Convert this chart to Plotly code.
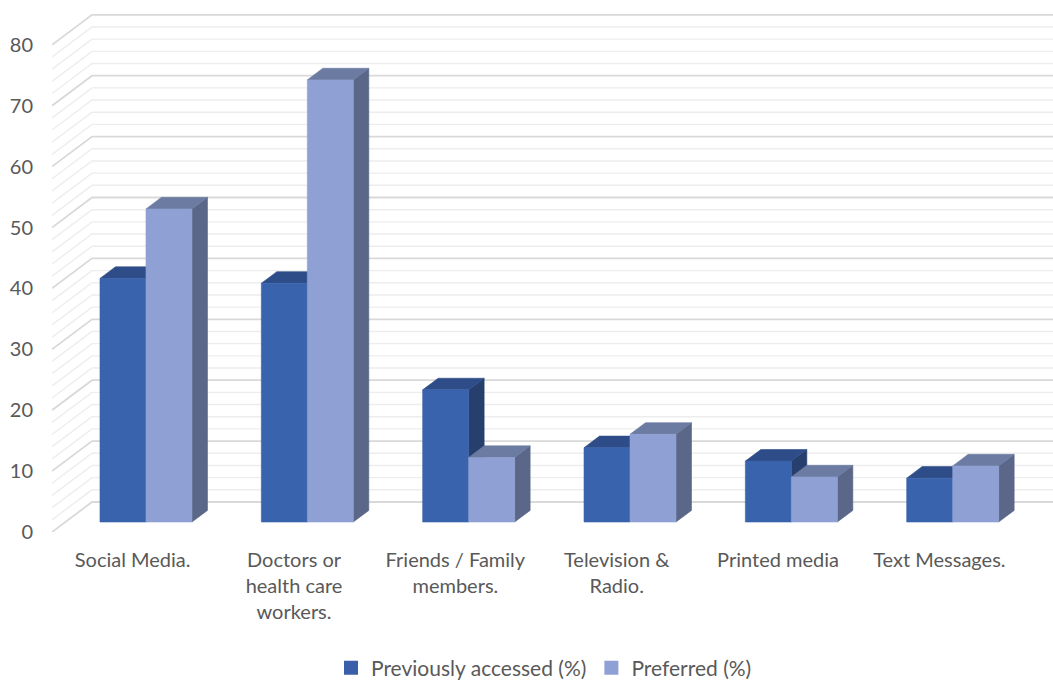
import plotly.graph_objects as go

# ---------------- data ----------------
categories = ["Social Media.", "Doctors or health care workers.", "Friends / Family members.",
              "Television & Radio.", "Printed media", "Text Messages."]
tick_labels = ["Social Media.", "Doctors or<br>health care<br>workers.", "Friends / Family<br>members.",
               "Television &<br>Radio.", "Printed media", "Text Messages."]
previously_accessed = [40.0, 39.2, 21.7, 12.2, 10.0, 7.2]
preferred = [51.4, 72.6, 10.6, 14.4, 7.4, 9.2]
series_names = ["Previously accessed (%)", "Preferred (%)"]
y_ticks = [0, 10, 20, 30, 40, 50, 60, 70, 80]
minor_step = 2

# ---------------- style / geometry ----------------
FONT = "Lato, 'Open Sans', sans-serif"
TEXT_COLOR = "#595959"
PX_PER_CAT = 161.34          # horizontal pixels per category
PX_PER_UNIT = 6.09           # vertical pixels per value unit
DEPTH_X = 40 / PX_PER_CAT    # oblique offset of the back wall (in axis units)
DEPTH_Y = 30 / PX_PER_UNIT
BAR_FRONT = 0.333            # depth fraction of bar front face
BAR_BACK = 0.72              # depth fraction of bar back face
BAR_W = 46 / PX_PER_CAT
colors = {
    0: dict(front="#3A63AD", top="#2E4D88", side="#263F6D"),
    1: dict(front="#8FA1D4", top="#6B7BA2", side="#5A6788"),
}
legend_colors = ["#3A5FAA", "#8FA1D4"]

X_MIN = -0.5
X_MAX = X_MIN + 1001 / PX_PER_CAT
Y_MAX = 532 / PX_PER_UNIT

fig = go.Figure()

# ---------------- walls / gridlines ----------------
maj_x, maj_y, min_x, min_y = [], [], [], []
v = 0
top_val = y_ticks[-1]
while v <= top_val:
    xs = [X_MIN, X_MIN + DEPTH_X, X_MAX + 1, None]
    ys = [v, v + DEPTH_Y, v + DEPTH_Y, None]
    if v in y_ticks:
        maj_x += xs; maj_y += ys
    else:
        min_x += xs; min_y += ys
    v += minor_step
fig.add_trace(go.Scatter(x=min_x, y=min_y, mode="lines", line=dict(color="#EDEDED", width=1.4),
                         hoverinfo="skip", showlegend=False))
fig.add_trace(go.Scatter(x=maj_x, y=maj_y, mode="lines", line=dict(color="#D9D9D9", width=1.8),
                         hoverinfo="skip", showlegend=False))

# ---------------- 3D bars ----------------
fdx, fdy = BAR_FRONT * DEPTH_X, BAR_FRONT * DEPTH_Y
ddx, ddy = (BAR_BACK - BAR_FRONT) * DEPTH_X, (BAR_BACK - BAR_FRONT) * DEPTH_Y

for s, values in enumerate([previously_accessed, preferred]):
    faces = {"side": ([], []), "top": ([], []), "front": ([], [])}
    for i, val in enumerate(values):
        x0 = i + fdx - BAR_W if s == 0 else i + fdx
        x1 = x0 + BAR_W
        yb = fdy
        yt = yb + val
        fx, fy = faces["front"]
        fx += [x0, x1, x1, x0, x0, None]; fy += [yb, yb, yt, yt, yb, None]
        tx, ty = faces["top"]
        tx += [x0, x1, x1 + ddx, x0 + ddx, x0, None]; ty += [yt, yt, yt + ddy, yt + ddy, yt, None]
        sx, sy = faces["side"]
        sx += [x1, x1 + ddx, x1 + ddx, x1, x1, None]; sy += [yb, yb + ddy, yt + ddy, yt, yb, None]
    for face in ["side", "top", "front"]:
        fx, fy = faces[face]
        c = colors[s][face]
        fig.add_trace(go.Scatter(x=fx, y=fy, mode="lines", fill="toself", fillcolor=c,
                                 line=dict(color=c, width=0.6), hoverinfo="skip", showlegend=False))

# legend entries
for s, name in enumerate(series_names):
    fig.add_trace(go.Scatter(x=[None], y=[None], mode="markers", name=name,
                             marker=dict(symbol="square", size=14, color=legend_colors[s])))

fig.update_layout(
    width=1053, height=680,
    margin=dict(l=52, r=0, t=0, b=148, autoexpand=False),
    paper_bgcolor="white", plot_bgcolor="white",
    font=dict(family=FONT, size=20, color=TEXT_COLOR),
    xaxis=dict(range=[X_MIN, X_MAX], tickvals=list(range(len(categories))), ticktext=tick_labels,
               showgrid=False, zeroline=False, showline=False, ticks="", automargin=False,
               ticklabelstandoff=14,
               tickfont=dict(family=FONT, size=20, color=TEXT_COLOR), fixedrange=True),
    yaxis=dict(range=[0, Y_MAX], tickvals=y_ticks, showgrid=False, zeroline=False, showline=False,
               ticks="", ticklabelstandoff=18, automargin=False,
               tickfont=dict(family=FONT, size=20, color=TEXT_COLOR), fixedrange=True),
    legend=dict(orientation="h", xref="container", yref="container",
                x=544 / 1053, xanchor="center", y=12 / 680, yanchor="middle",
                font=dict(family=FONT, size=21, color=TEXT_COLOR), itemwidth=30,
                tracegroupgap=0),
    showlegend=True,
)

fig.write_html("out.html")
